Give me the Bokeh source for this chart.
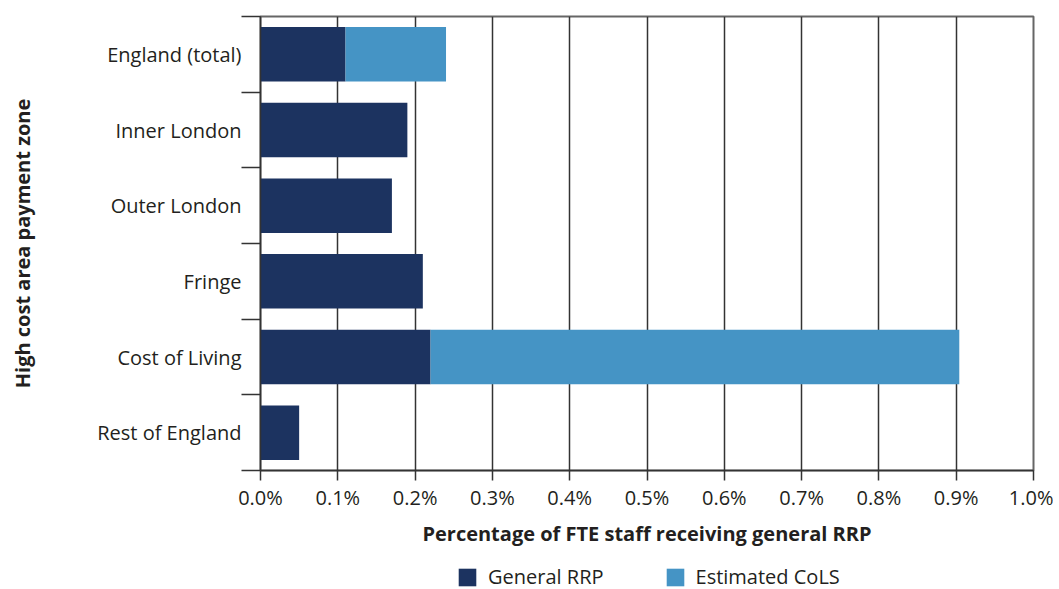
from bokeh.plotting import figure
from bokeh.layouts import column
from bokeh.models import (Range1d, LinearAxis, FixedTicker, PrintfTickFormatter, Legend,
                          LegendItem, ColumnDataSource, Grid)
from bokeh.embed import file_html
from bokeh.resources import INLINE

categories = ["England (total)", "Inner London", "Outer London", "Fringe", "Cost of Living", "Rest of England"]
general_rrp = [0.11, 0.19, 0.17, 0.21, 0.22, 0.05]
estimated_cols = [0.13, 0.0, 0.0, 0.0, 0.684, 0.0]
x_ticks = [0.0, 0.1, 0.2, 0.3, 0.4, 0.5, 0.6, 0.7, 0.8, 0.9, 1.0]
series_names = ["General RRP", "Estimated CoLS"]

FONT = "Open Sans"
FS = "20px"
DARK = "#1c3360"
LIGHT = "#4594c5"
TXT = "#231f20"
LINE = "#333333"

n = len(categories)
ypos = [n - i - 0.5 for i in range(n)]
src = ColumnDataSource(dict(y=ypos, general=general_rrp, cols=estimated_cols))

p = figure(y_range=Range1d(0, n), x_range=Range1d(0, 1.0),
           frame_width=773, frame_height=454,
           min_border_left=260, min_border_top=16, min_border_right=20, min_border_bottom=78,
           output_backend="svg", toolbar_location=None, y_axis_location=None,
           x_axis_location=None)
p.center = [c for c in p.center if not isinstance(c, Grid)]

r = p.hbar_stack(["general", "cols"], y="y", height=0.72, source=src,
                 color=[DARK, LIGHT], line_color=None)

cat_axis = LinearAxis(ticker=FixedTicker(ticks=ypos, minor_ticks=list(range(n + 1))),
                      major_label_overrides={y: c for y, c in zip(ypos, categories)},
                      axis_line_color=LINE, axis_line_width=1.5,
                      major_tick_line_color=None, major_tick_out=0, major_tick_in=0,
                      minor_tick_line_color=LINE, minor_tick_line_width=1.5,
                      minor_tick_out=19, minor_tick_in=0,
                      major_label_standoff=0,
                      major_label_text_font=FONT, major_label_text_font_size=FS,
                      major_label_text_color=TXT,
                      axis_label="High cost area payment zone",
                      axis_label_text_font=FONT, axis_label_text_font_size=FS,
                      axis_label_text_font_style="bold", axis_label_text_color=TXT,
                      axis_label_standoff=58)
p.add_layout(cat_axis, "left")

x_axis = LinearAxis(ticker=FixedTicker(ticks=x_ticks),
                    formatter=PrintfTickFormatter(format="%.1f%%"),
                    major_tick_out=10, major_tick_in=0, minor_tick_line_color=None,
                    axis_line_color=LINE, axis_line_width=1.5,
                    major_tick_line_color=LINE, major_tick_line_width=1.5,
                    major_label_text_font=FONT, major_label_text_font_size=FS,
                    major_label_text_color=TXT, major_label_standoff=3,
                    axis_label="Percentage of FTE staff receiving general RRP",
                    axis_label_text_font=FONT, axis_label_text_font_size=FS,
                    axis_label_text_font_style="bold", axis_label_text_color=TXT,
                    axis_label_standoff=6)
p.add_layout(x_axis, "below")

p.add_layout(Grid(dimension=0, ticker=x_axis.ticker, grid_line_color=LINE,
                  grid_line_width=1.5))

p.outline_line_color = "#666666"
p.outline_line_width = 2

# legend strip below the chart
lg = figure(width=1053, height=41, x_range=Range1d(0, 1), y_range=Range1d(0, 1),
            min_border=0, output_backend="svg", toolbar_location=None,
            x_axis_location=None, y_axis_location=None)
lg.center = [c for c in lg.center if not isinstance(c, Grid)]
lg.outline_line_color = None
lr = lg.hbar_stack(["general", "cols"], y="y", height=0.72, source=src,
                   color=[DARK, LIGHT], line_color=None)
for rr in lr:
    rr.visible = False

legend = Legend(items=[LegendItem(label=series_names[0], renderers=[lr[0]]),
                       LegendItem(label=series_names[1], renderers=[lr[1]])],
                orientation="horizontal", location=(196, 0),
                label_text_font=FONT, label_text_font_size=FS, label_text_color=TXT,
                glyph_width=22, glyph_height=22, spacing=60, label_standoff=10,
                border_line_color=None, background_fill_alpha=0, margin=0, padding=0)
lg.add_layout(legend, "center")

layout = column(p, lg, spacing=0)
open("out.html", "w").write(file_html(layout, INLINE))
